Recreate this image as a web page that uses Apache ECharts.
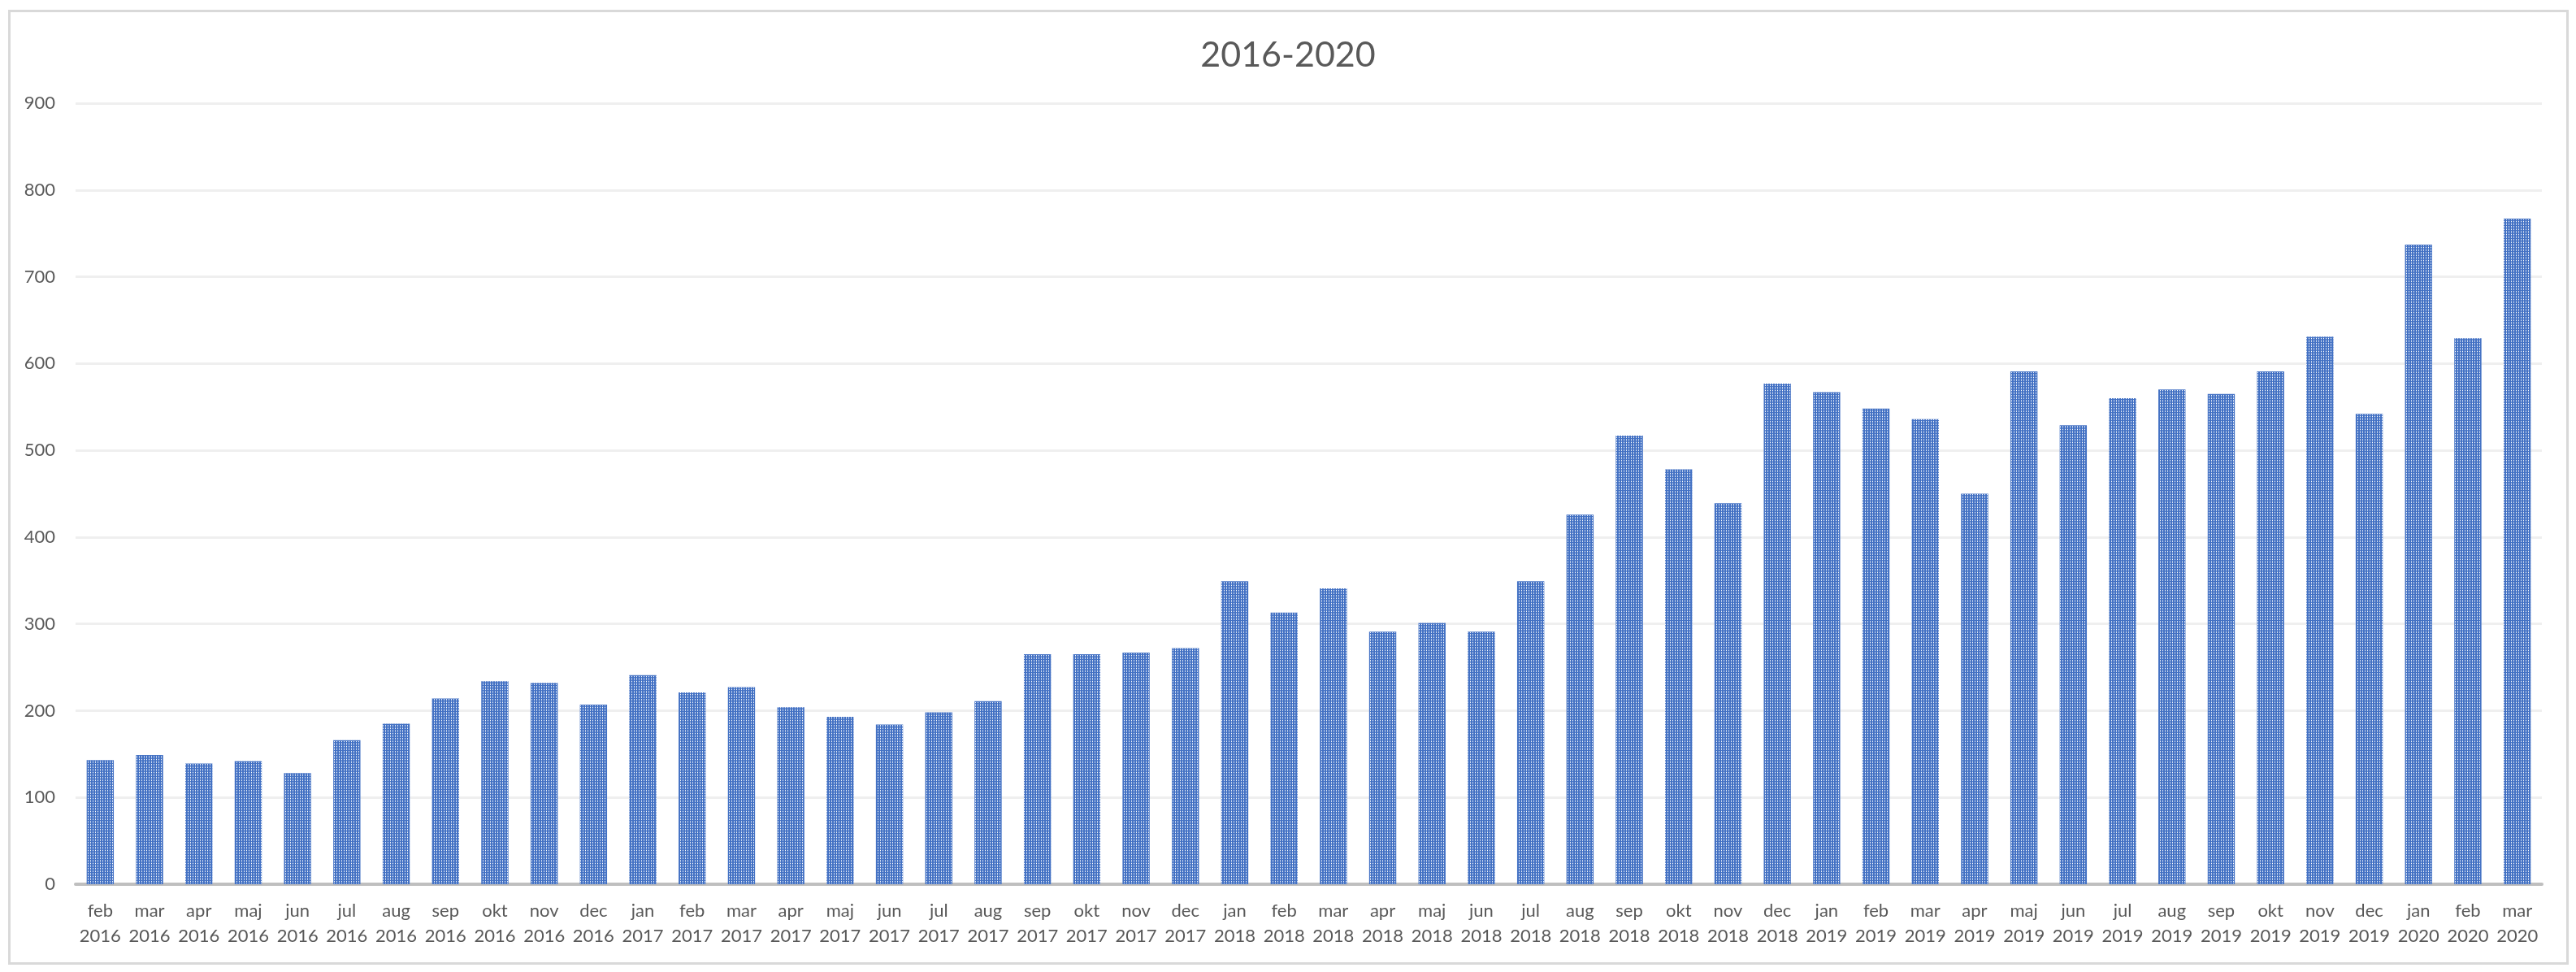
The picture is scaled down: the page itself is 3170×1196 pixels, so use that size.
<!DOCTYPE html>
<html>
<head>
<meta charset="utf-8">
<style>
  html, body { margin: 0; padding: 0; background: #ffffff; }
  #chart { width: 3170px; height: 1196px; }
</style>
<script src="https://cdn.jsdelivr.net/npm/echarts@6/dist/echarts.min.js"></script>
</head>
<body>
<div id="chart"></div>
<script>
const chartTitle = '2016-2020';
const categories = [
  'feb 2016','mar 2016','apr 2016','maj 2016','jun 2016','jul 2016','aug 2016','sep 2016','okt 2016','nov 2016','dec 2016',
  'jan 2017','feb 2017','mar 2017','apr 2017','maj 2017','jun 2017','jul 2017','aug 2017','sep 2017','okt 2017','nov 2017','dec 2017',
  'jan 2018','feb 2018','mar 2018','apr 2018','maj 2018','jun 2018','jul 2018','aug 2018','sep 2018','okt 2018','nov 2018','dec 2018',
  'jan 2019','feb 2019','mar 2019','apr 2019','maj 2019','jun 2019','jul 2019','aug 2019','sep 2019','okt 2019','nov 2019','dec 2019',
  'jan 2020','feb 2020','mar 2020'
];
const values = [
  143, 149, 139, 142, 128, 166, 185, 214, 234, 232, 207,
  241, 221, 227, 204, 193, 184, 198, 211, 265, 265, 267, 272,
  349, 313, 341, 291, 301, 291, 349, 426, 517, 478, 439, 577,
  567, 548, 536, 450, 591, 529, 560, 570, 565, 591, 631, 542,
  737, 629, 767
];
const yMin = 0;
const yMax = 900;
const yStep = 100;

const textColor = '#595959';
const fontFamily = 'Lato, "Open Sans", sans-serif';

const chart = echarts.init(document.getElementById('chart'), null, { renderer: 'canvas' });
chart.setOption({
  animation: false,
  backgroundColor: '#ffffff',
  title: {
    text: chartTitle,
    left: 'center',
    top: 42,
    textStyle: { color: textColor, fontSize: 43, fontWeight: 'normal', fontFamily: fontFamily }
  },
  graphic: [{
    type: 'rect',
    shape: { x: 11.5, y: 13.5, width: 3148, height: 1172 },
    style: { fill: 'none', stroke: '#d9d9d9', lineWidth: 3 },
    silent: true,
    z: 100
  }],
  grid: { left: 93, right: 42, top: 127, bottom: 108, containLabel: false },
  xAxis: {
    type: 'category',
    data: categories,
    axisTick: { show: false },
    axisLine: { lineStyle: { color: '#bfbfbf', width: 4 } },
    axisLabel: {
      interval: 0,
      color: textColor,
      fontSize: 22,
      fontFamily: fontFamily,
      lineHeight: 31,
      margin: 17,
      formatter: function (v) { return v.replace(' ', '\n'); }
    }
  },
  yAxis: {
    type: 'value',
    min: yMin,
    max: yMax,
    interval: yStep,
    axisLine: { show: false },
    axisTick: { show: false },
    axisLabel: { color: textColor, fontSize: 22, fontFamily: fontFamily, margin: 25 },
    splitLine: { lineStyle: { color: '#efefef', width: 3 } }
  },
  series: [{
    type: 'bar',
    data: values,
    barCategoryGap: '45%',
    itemStyle: {
      color: '#4472C4',
      decal: {
        symbol: 'rect',
        color: '#ffffff',
        symbolSize: 1,
        dashArrayX: [1, 2],
        dashArrayY: [1, 1],
        rotation: 0
      }
    }
  }]
});
</script>
</body>
</html>
